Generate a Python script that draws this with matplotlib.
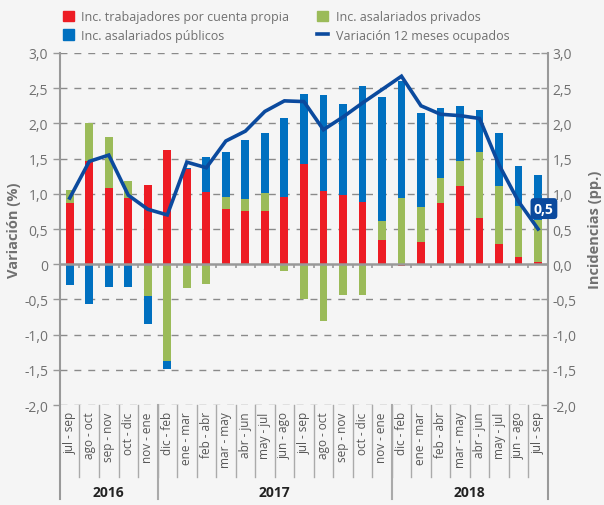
import numpy as np
import matplotlib.pyplot as plt
from matplotlib.patches import Patch
from matplotlib.lines import Line2D

plt.rcParams['font.family'] = ['Open Sans', 'DejaVu Sans']

# periodos moviles (trimestres)
periodos = ['jul - sep', 'ago - oct', 'sep - nov', 'oct - dic', 'nov - ene',
            'dic - feb', 'ene - mar', 'feb - abr', 'mar - may', 'abr - jun',
            'may - jul', 'jun - ago', 'jul - sep', 'ago - oct', 'sep - nov',
            'oct - dic', 'nov - ene',
            'dic - feb', 'ene - mar', 'feb - abr', 'mar - may', 'abr - jun',
            'may - jul', 'jun - ago', 'jul - sep']
anios = ['2016', '2017', '2018']
n_por_anio = [5, 12, 8]

# incidencias (pp.)
cuenta_propia = [0.87, 1.46, 1.08, 0.94, 1.13, 1.62, 1.35, 1.02, 0.79, 0.76,
                 0.75, 0.96, 1.42, 1.04, 0.98, 0.88, 0.35, -0.03, 0.32, 0.87,
                 1.11, 0.66, 0.28, 0.10, 0.03]
privados = [0.19, 0.54, 0.72, 0.24, -0.45, -1.38, -0.34, -0.28, 0.16, 0.17,
            0.26, -0.10, -0.49, -0.80, -0.44, -0.44, 0.27, 0.94, 0.49, 0.35,
            0.36, 0.93, 0.83, 0.72, 0.60]
publicos = [-0.29, -0.57, -0.33, -0.33, -0.40, -0.11, 0.02, 0.50, 0.65, 0.83,
            0.86, 1.11, 1.00, 1.36, 1.30, 1.65, 1.76, 1.66, 1.34, 1.00,
            0.77, 0.60, 0.75, 0.57, 0.64]
# variacion 12 meses ocupados (%)
variacion = [0.94, 1.46, 1.55, 0.98, 0.78, 0.70, 1.45, 1.37, 1.75, 1.89,
             2.17, 2.32, 2.31, 1.91, 2.09, 2.29, 2.48, 2.67, 2.25, 2.13,
             2.11, 2.07, 1.41, 0.89, 0.50]

c_rojo = '#ED1C24'
c_verde = '#9BBB59'
c_azul = '#0070C0'
c_linea = '#0B4A9E'
gris = '#999999'
gris_txt = '#707070'
fondo = '#F5F5F5'

fig = plt.figure(figsize=(6.04, 5.06), dpi=100, facecolor=fondo)
ax = fig.add_axes([0.0993, 0.1976, 0.8077, 0.6957])
ax.set_facecolor(fondo)
x = np.arange(len(periodos))
w = 0.4

# barras apiladas separando positivos y negativos
pos_base = np.zeros(len(x))
neg_base = np.zeros(len(x))
for serie, col in [(cuenta_propia, c_rojo), (privados, c_verde), (publicos, c_azul)]:
    v = np.array(serie)
    base = np.where(v >= 0, pos_base, neg_base)
    ax.bar(x, v, w, bottom=base, color=col, zorder=3)
    pos_base = pos_base + np.where(v >= 0, v, 0)
    neg_base = neg_base + np.where(v < 0, v, 0)

ax.plot(x, variacion, color=c_linea, lw=2.6, zorder=4, solid_joinstyle='miter')
ax.annotate('0,5', (x[-1], variacion[-1]), xytext=(x[-1] + 0.3, 0.79),
            color='white', fontsize=10, fontweight='bold', ha='center', va='center',
            bbox=dict(boxstyle='round,pad=0.25', fc=c_linea, ec='none'), zorder=6)

ax.set_xlim(-0.5, len(x) - 0.5)
ax.set_ylim(-2, 3)
yt = np.arange(-2, 3.01, 0.5)
for y in yt:
    if abs(y) > 1e-9:
        ax.axhline(y, color='#8A8A8A', lw=1, ls=(0, (5, 5)), zorder=1)
ax.axhline(0, color=gris, lw=1.8, zorder=5)
ax.vlines(np.arange(len(x) + 1) - 0.5, -0.06, 0, color=gris, lw=1.2, zorder=5)

ax.set_yticks(yt)
ax.set_yticklabels(['0' if abs(v) < 1e-9 else f'{v:.1f}'.replace('.', ',') for v in yt])
ax.tick_params(axis='y', colors=gris, labelcolor=gris_txt, labelsize=10, length=5, width=1)
ax.set_xticks([])
for s in ['top', 'bottom', 'right', 'left']:
    ax.spines[s].set_visible(False)

ax2 = ax.twinx()
ax2.set_ylim(-2, 3)
ax2.set_yticks(yt)
ax2.set_yticklabels([f'{v:.1f}'.replace('.', ',') for v in yt])
ax2.tick_params(axis='y', colors=gris, labelcolor=gris_txt, labelsize=10, length=5,
                width=1, direction='in')
for s in ['top', 'bottom', 'right', 'left']:
    ax2.spines[s].set_visible(False)

ax.set_ylabel('Variación (%)', color=gris_txt, fontsize=10.5, fontweight='bold', labelpad=2)
ax2.set_ylabel('Incidencias (pp.)', color=gris_txt, fontsize=10.5, fontweight='bold', labelpad=8)

# ejes verticales extendidos hasta la zona de anios
tr = ax.get_xaxis_transform()
y_fin = -0.267
for xv in [-0.5, len(x) - 0.5]:
    ax.add_line(Line2D([xv, xv], [y_fin, 1], transform=tr, color=gris, lw=1.5, clip_on=False))

# etiquetas de periodos con separadores
for i, lab in enumerate(periodos):
    ax.text(i, -0.018, lab, transform=tr, rotation=90, ha='center', va='top',
            fontsize=8.5, color='#555555')
for i in range(1, len(x)):
    ax.add_line(Line2D([i - 0.5, i - 0.5], [-0.205, 0], transform=tr, color='#AAAAAA',
                       lw=1, clip_on=False))

# anios
ini = -0.5
for anio, n in zip(anios, n_por_anio):
    ax.text(ini + n / 2, -0.247, anio, transform=tr, ha='center', va='center',
            fontsize=10, fontweight='bold', color='#222222')
    ini += n
    if ini < len(x) - 0.5:
        ax.add_line(Line2D([ini, ini], [y_fin, 0], transform=tr, color='#AAAAAA',
                           lw=1.5, clip_on=False))

handles = [Patch(color=c_rojo, label='Inc. trabajadores por cuenta propia'),
           Patch(color=c_azul, label='Inc. asalariados públicos'),
           Patch(color=c_verde, label='Inc. asalariados privados'),
           Line2D([], [], color=c_linea, lw=2.6, label='Variación 12 meses ocupados')]
fig.legend(handles=handles, loc='upper left', bbox_to_anchor=(0.085, 1.0), ncol=2,
           frameon=False, fontsize=9, labelcolor='#707070', handlelength=0.9,
           handleheight=0.9, handletextpad=0.6, columnspacing=2.2, labelspacing=0.45)

fig.savefig('out.png', dpi=100, facecolor=fondo)
